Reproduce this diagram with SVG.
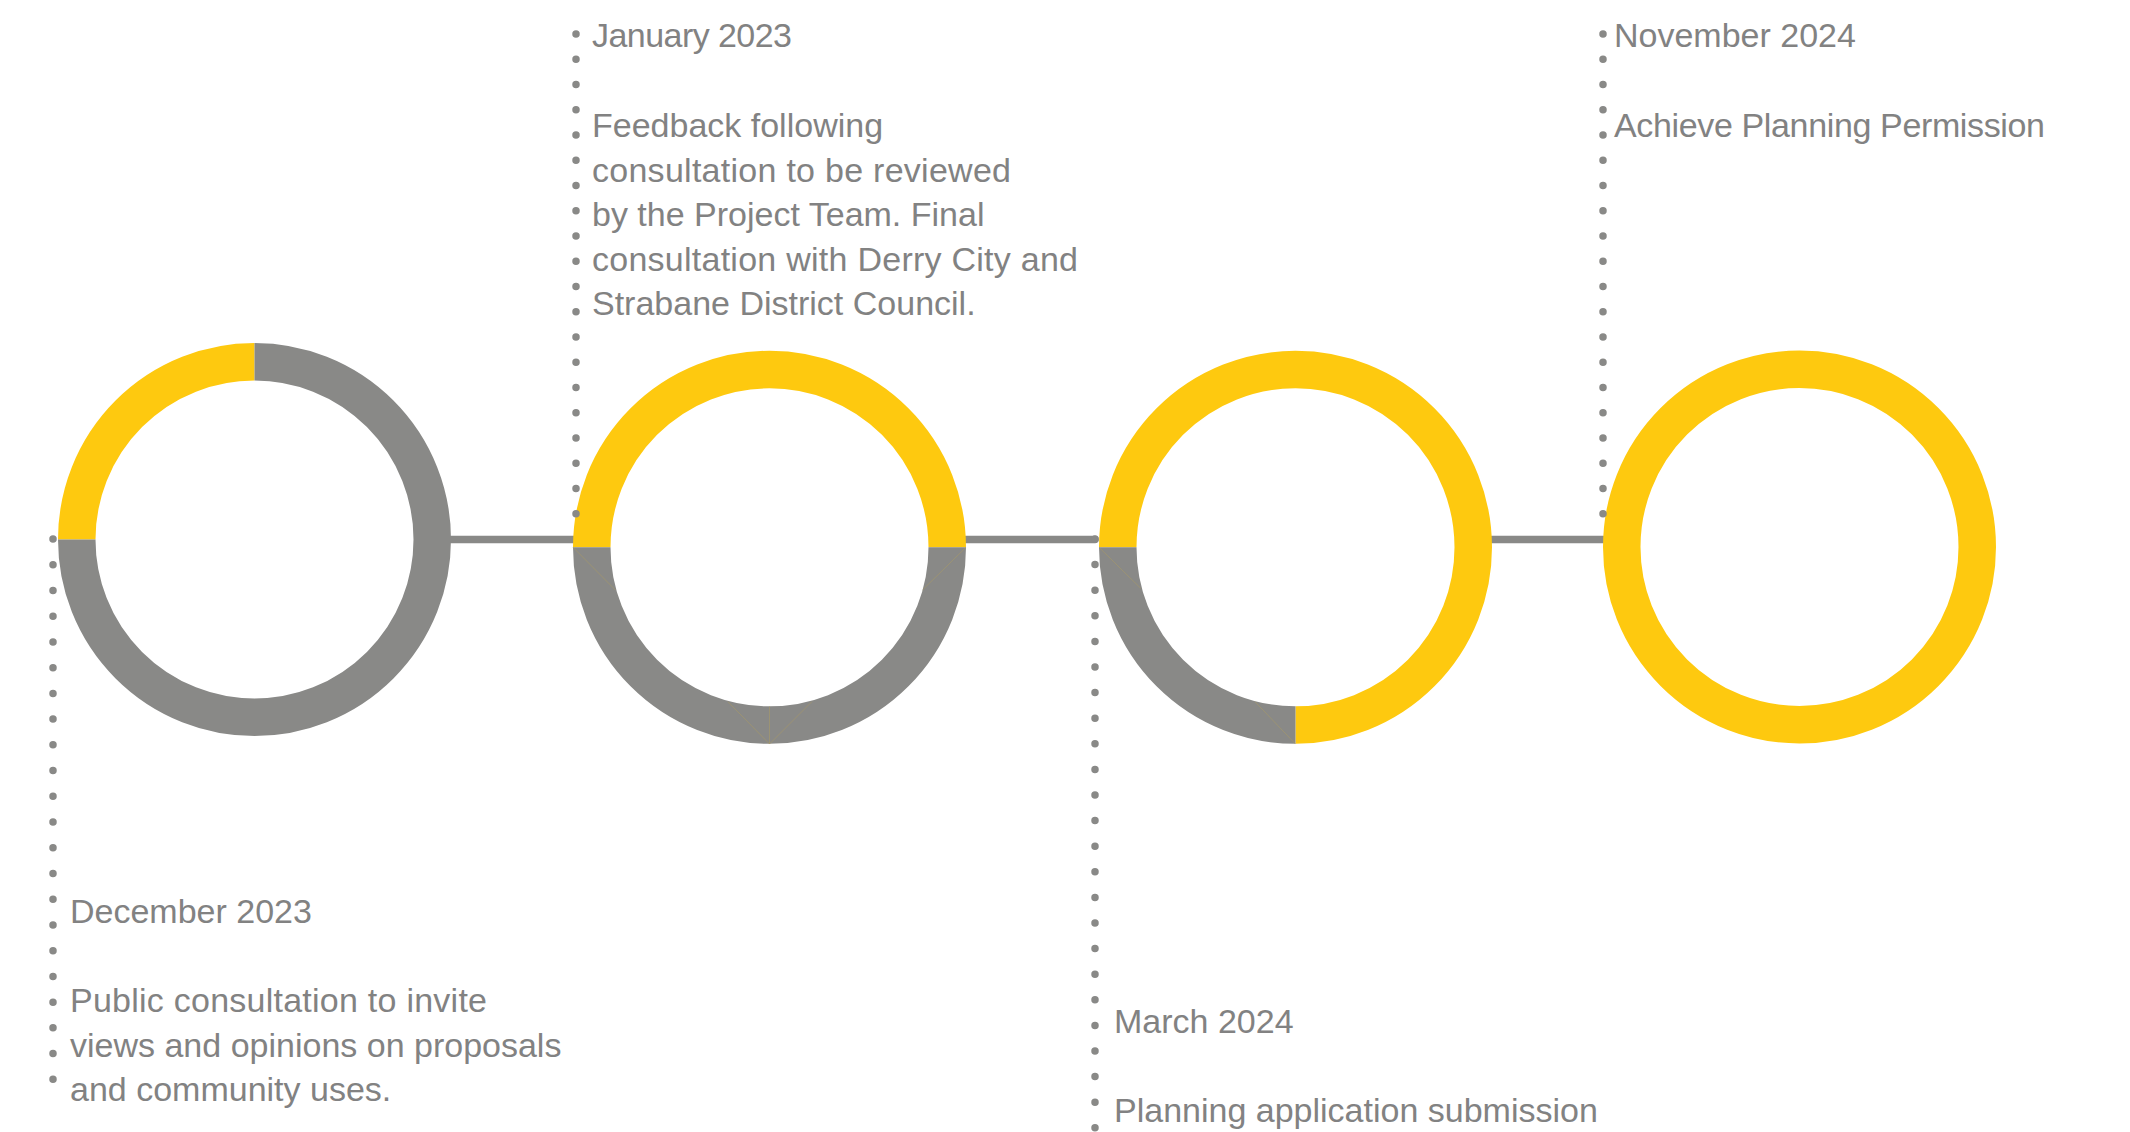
<svg xmlns="http://www.w3.org/2000/svg" width="2130" height="1132" viewBox="0 0 2130 1132">
  <style>
    .ring { fill: none; stroke-width: 37.5; stroke-linecap: butt; }
    .y { stroke: #FEC90F; }
    .g { stroke: #898987; }
    .seam { stroke: #a89a68; stroke-width: 1; opacity: 0.6; }
    .conn { stroke: #898987; stroke-width: 7.5; stroke-linecap: round; fill: none; }
    .dots { stroke: #898987; stroke-width: 7.5; stroke-linecap: round; fill: none; }
    .t { font-family: "Liberation Sans", Arial, sans-serif; font-size: 34px; fill: #828282; }
  </style>
  <rect width="2130" height="1132" fill="#ffffff"/>

  <g id="connectors">
    <line class="conn" x1="451" y1="539.5" x2="576" y2="539.5"/>
    <line class="conn" x1="966" y1="539.5" x2="1095" y2="539.5"/>
    <line class="conn" x1="1492" y1="539.5" x2="1603" y2="539.5"/>
  </g>

  <g id="milestone1">
    <path class="ring y" d="M 76.75 539.5 A 177.75 177.75 0 0 1 254.5 361.75"/>
    <path class="ring g" d="M 254.5 361.75 A 177.75 177.75 0 1 1 76.75 539.5"/>
  </g>

  <g id="milestone2">
    <path class="ring y" d="M 591.75 547.3 A 177.75 177.75 0 0 1 947.25 547.3"/>
    <path class="ring g" d="M 947.25 547.3 A 177.75 177.75 0 0 1 591.75 547.3"/>
    <line class="seam" x1="573" y1="547.3" x2="615.4" y2="590"/>
    <line class="seam" x1="727.9" y1="701.7" x2="769.5" y2="744"/>
    <line class="seam" x1="769.5" y1="706.5" x2="769.5" y2="744"/>
    <line class="seam" x1="769.5" y1="744" x2="811.8" y2="701.7"/>
    <line class="seam" x1="966" y1="547.3" x2="922.5" y2="590"/>
  </g>

  <g id="milestone3">
    <path class="ring y" d="M 1117.75 547.3 A 177.75 177.75 0 1 1 1295.5 725.05"/>
    <path class="ring g" d="M 1295.5 725.05 A 177.75 177.75 0 0 1 1117.75 547.3"/>
    <line class="seam" x1="1099" y1="547.3" x2="1140.7" y2="588.3"/>
    <line class="seam" x1="1255" y1="701.7" x2="1295.5" y2="744"/>
  </g>

  <g id="milestone4">
    <circle class="ring y" cx="1799.5" cy="547" r="177.75"/>
  </g>

  <g id="leaders">
    <line class="dots" x1="53" y1="539" x2="53" y2="1105" stroke-dasharray="0 25.73"/>
    <line class="dots" x1="576" y1="34" x2="576" y2="539" stroke-dasharray="0 25.25"/>
    <line class="dots" x1="1095" y1="539" x2="1095" y2="1150" stroke-dasharray="0 25.6"/>
    <line class="dots" x1="1603" y1="34" x2="1603" y2="539" stroke-dasharray="0 25.25"/>
  </g>

  <g id="label-dec2023">
    <text class="t" x="70" y="923">December 2023</text>
    <text class="t" x="70" y="1012" textLength="417" lengthAdjust="spacing">Public consultation to invite</text>
    <text class="t" x="70" y="1056.5">views and opinions on proposals</text>
    <text class="t" x="70" y="1101">and community uses.</text>
  </g>

  <g id="label-jan2023">
    <text class="t" x="592" y="47" textLength="200" lengthAdjust="spacing">January 2023</text>
    <text class="t" x="592" y="137">Feedback following</text>
    <text class="t" x="592" y="181.5" textLength="419" lengthAdjust="spacing">consultation to be reviewed</text>
    <text class="t" x="592" y="226">by the Project Team. Final</text>
    <text class="t" x="592" y="270.5" textLength="486" lengthAdjust="spacing">consultation with Derry City and</text>
    <text class="t" x="592" y="315">Strabane District Council.</text>
  </g>

  <g id="label-mar2024">
    <text class="t" x="1114" y="1033">March 2024</text>
    <text class="t" x="1114" y="1122">Planning application submission</text>
  </g>

  <g id="label-nov2024">
    <text class="t" x="1614" y="47">November 2024</text>
    <text class="t" x="1614" y="137" textLength="431" lengthAdjust="spacing">Achieve Planning Permission</text>
  </g>
</svg>
